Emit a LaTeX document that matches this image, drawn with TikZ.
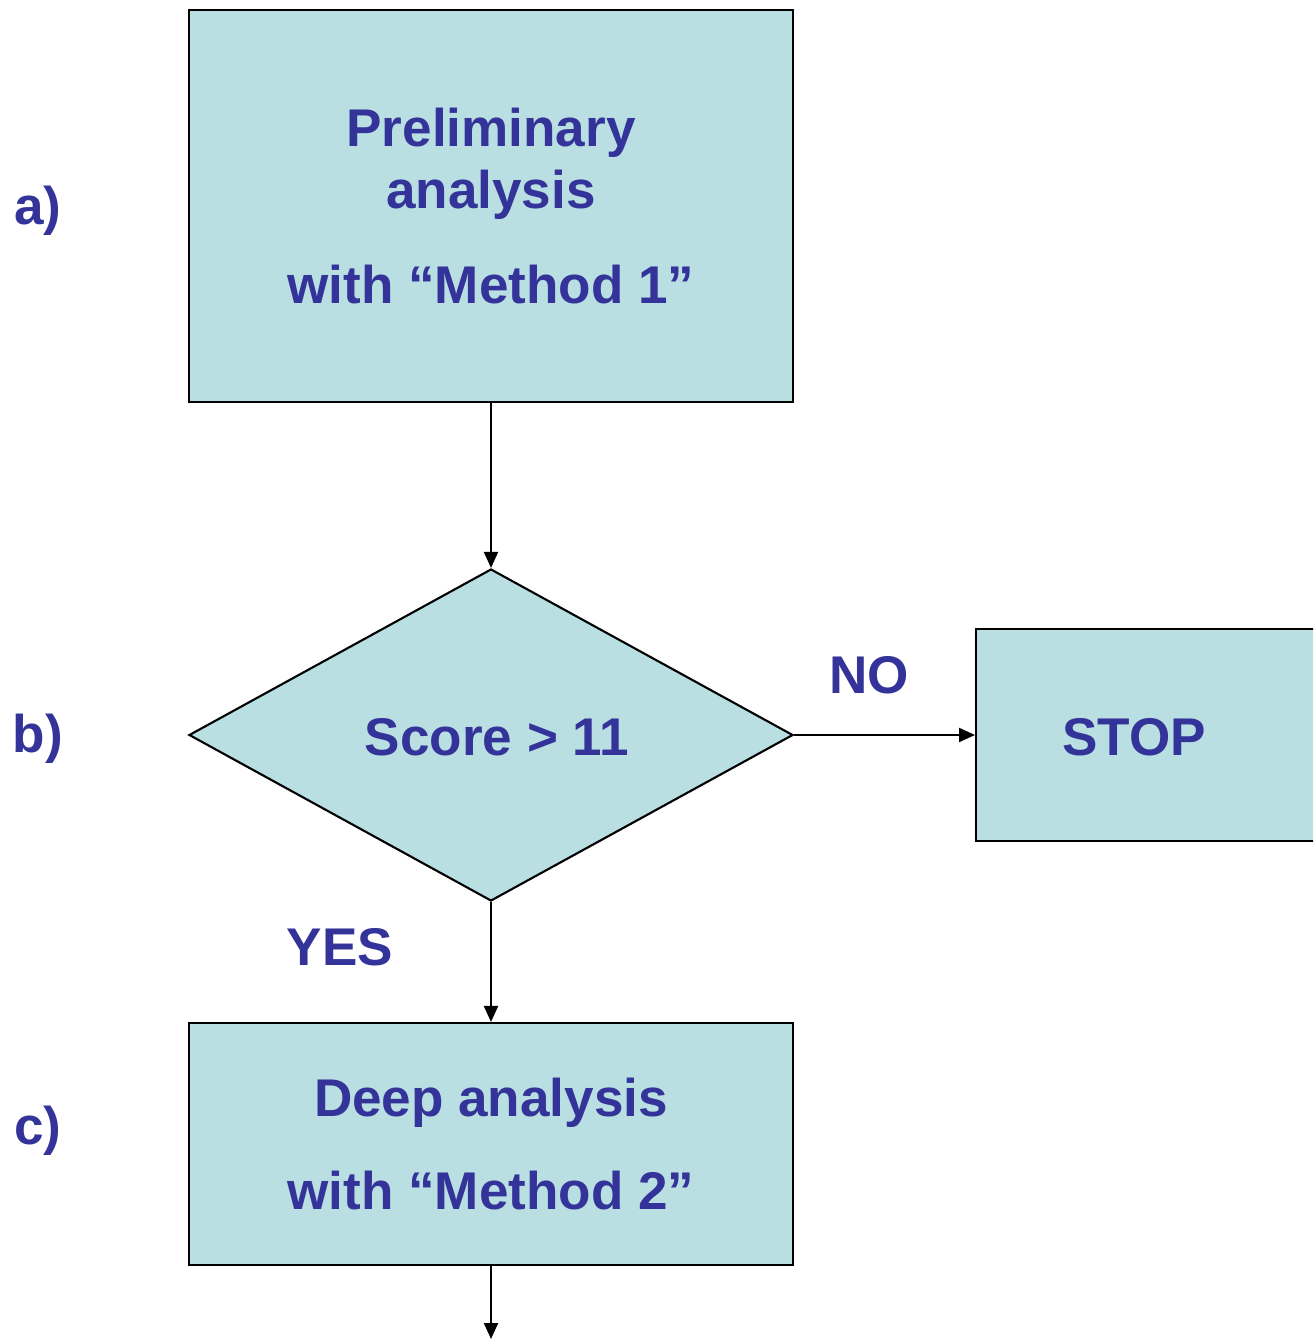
\documentclass[tikz,border=0pt]{standalone}
\usepackage{fontspec}
\setmainfont{Liberation Sans}
\usepackage{xcolor}
\usepackage{tikz}
\usetikzlibrary{shapes.geometric,arrows.meta}
\definecolor{flowfill}{HTML}{B9DFE2}
\definecolor{flowtext}{HTML}{333399}

\begin{document}
\begin{tikzpicture}[>={Triangle[length=1.6mm, width=1.4mm]},
    every node/.style={font=\fontsize{15.1}{17.6}\selectfont\bfseries, text=flowtext},
    stage/.style={draw=black, line width=0.6pt, fill=flowfill, inner sep=0pt,
                  minimum width=6.04cm, align=center},
    decision/.style={draw=black, line width=0.6pt, fill=flowfill, diamond,
                     aspect=1.82, inner sep=0pt, minimum width=6.04cm,
                     minimum height=3.32cm},
    flow/.style={->, line width=0.6pt}]
  \clip (0,0) rectangle (13.13,-13.39);
  % kasten van de stroom
  \node[stage, minimum height=3.92cm] (prelim) at (4.91,-2.06)
      {Preliminary\\analysis\\[9.6pt]with “Method 1”};
  \node[decision] (score) at (4.91,-7.35) {};
  \node at (4.97,-7.37) {Score > 11};
  \node[stage, minimum width=3.65cm, minimum height=2.12cm, anchor=west]
      (stop) at (9.75,-7.35) {};
  \node at (11.34,-7.37) {STOP};
  \node[stage, minimum height=2.42cm] (deep) at (4.91,-11.44)
      {Deep analysis\\[9pt]with “Method 2”};
  \coordinate (next) at (4.91,-13.39);
  % stapletters links
  \foreach \y/\lbl in {2.11/a, 7.39/b, 11.31/c}
    \node (step-\lbl) at (0.38,-\y) {\lbl)};
  % pijlen met antwoorden
  \draw[flow] (prelim) -- (score);
  \draw[flow] (score) -- (stop);
  \draw[flow] (score) -- (deep);
  \draw[flow] (deep) -- (next);
  \node (no) at (8.69,-6.75) {NO};
  \node (yes) at (3.40,-9.47) {YES};
\end{tikzpicture}
\end{document}
